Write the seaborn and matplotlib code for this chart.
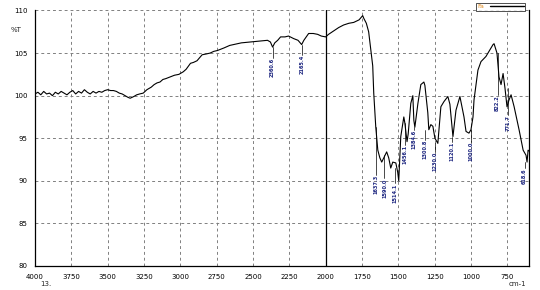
import matplotlib
matplotlib.use("Agg")
import matplotlib.pyplot as plt
import seaborn as sns
import pandas as pd
from matplotlib.ticker import MultipleLocator

wavenumber = [4000, 3980, 3960, 3940, 3920, 3900, 3880, 3860, 3840, 3820, 3800, 3780, 3760,
              3740, 3720, 3700, 3680, 3660, 3640, 3620, 3600, 3580, 3560, 3540, 3520, 3500,
              3480, 3460, 3440, 3420, 3400, 3380, 3360, 3345, 3320, 3300, 3280, 3255, 3230,
              3200, 3180, 3160, 3140, 3120, 3100, 3070, 3040, 3010, 2980, 2960, 2930, 2910,
              2885, 2860, 2850, 2820, 2795, 2770, 2745, 2700, 2660, 2634, 2580, 2517, 2460,
              2400, 2380, 2365, 2350, 2330, 2310, 2280, 2255, 2220, 2190, 2175, 2165, 2150,
              2117, 2085, 2055, 2030, 2000, 1980, 1945, 1910, 1876, 1840, 1807, 1770, 1745,
              1738, 1720, 1704, 1690, 1676, 1669, 1655, 1641, 1627, 1614, 1600, 1580, 1566,
              1552, 1538, 1517, 1504, 1497, 1490, 1483, 1462, 1455, 1440, 1432, 1414, 1400,
              1393, 1386, 1365, 1345, 1324, 1317, 1297, 1290, 1276, 1262, 1248, 1228, 1221,
              1207, 1186, 1159, 1145, 1124, 1103, 1076, 1048, 1034, 1014, 1000, 986, 979,
              952, 931, 897, 876, 848, 841, 821, 807, 793, 779, 766, 752, 738, 724, 703,
              669, 641, 621, 614, 607, 600]
transmittance = [100.2, 100.4, 100.1, 100.5, 100.2, 100.3, 100.0, 100.4, 100.2, 100.5, 100.3,
                 100.1, 100.4, 100.6, 100.2, 100.5, 100.3, 100.7, 100.4, 100.2, 100.5, 100.3,
                 100.5, 100.4, 100.6, 100.7, 100.6, 100.6, 100.5, 100.3, 100.2, 100.0, 99.8,
                 99.7, 99.9, 100.1, 100.2, 100.3, 100.7, 101.0, 101.3, 101.5, 101.6, 101.9,
                 102.0, 102.2, 102.4, 102.5, 102.8, 103.1, 103.8, 103.9, 104.1, 104.6, 104.8,
                 104.9, 105.0, 105.2, 105.3, 105.6, 105.9, 106.0, 106.2, 106.3, 106.4, 106.5,
                 106.3, 105.7, 106.2, 106.5, 106.9, 106.9, 107.0, 106.7, 106.5, 106.2, 106.0,
                 106.5, 107.3, 107.3, 107.2, 107.0, 106.9, 107.2, 107.6, 108.0, 108.3, 108.5,
                 108.6, 108.9, 109.4, 109.1, 108.5, 107.5, 105.5, 103.5, 100.3, 96.3, 93.6,
                 92.7, 92.2, 92.7, 93.4, 92.7, 91.5, 92.2, 92.1, 91.0, 90.0, 92.5, 95.2, 97.5,
                 96.8, 94.6, 95.5, 99.1, 100.0, 97.1, 96.3, 99.1, 101.3, 101.6, 101.2, 98.0,
                 96.0, 96.6, 96.4, 95.0, 94.4, 95.8, 98.7, 99.3, 99.9, 99.0, 95.2, 98.3, 99.9,
                 97.5, 95.8, 95.6, 96.0, 97.5, 99.5, 103.0, 104.0, 104.6, 105.2, 106.0, 106.1,
                 105.0, 102.2, 101.3, 102.6, 100.9, 98.7, 99.5, 100.1, 98.7, 96.0, 93.6, 93.0,
                 92.2, 93.6, 93.5]

peak_wn = [2365, 2165, 1655, 1595, 1520, 1457, 1395, 1319, 1250, 1133, 1002, 816, 747, 630]
peak_text = ["2360.6", "2165.4", "1637.3", "1590.0", "1514.1", "1456.1", "1384.6",
             "1300.8", "1230.0", "1120.1", "1000.0", "822.2", "771.7", "618.6"]
peak_curve = [105.7, 106.0, 96.3, 93.0, 91.5, 96.8, 96.3, 96.0, 94.4, 95.2, 96.0, 105.0, 100.9, 92.2]
label_top = [104.4, 104.8, 90.7, 90.3, 89.7, 94.2, 96.0, 94.8, 93.4, 94.6, 94.6, 100.1, 97.7, 91.5]

x_ticks = [4000, 3750, 3500, 3250, 3000, 2750, 2500, 2250, 2000, 1750, 1500, 1250, 1000, 750]
y_ticks = [80, 85, 90, 95, 100, 105, 110]

df = pd.DataFrame({"wn": wavenumber, "T": transmittance})

sns.set_style("white")
plt.rcParams["font.family"] = ["DejaVu Sans"]

fig = plt.figure(figsize=(5.4, 2.9), dpi=100)
ax = fig.add_axes([0.0648, 0.0828, 0.915, 0.881])

sns.lineplot(data=df, x="wn", y="T", sort=False, estimator=None, color="black",
             linewidth=0.8, ax=ax, label="Fa")

ax.set_xlim(4000, 600)
ax.set_ylim(80, 110)
ax.set_xticks(x_ticks)
ax.set_yticks(y_ticks)
ax.xaxis.set_minor_locator(MultipleLocator(50))
ax.yaxis.set_minor_locator(MultipleLocator(1))
ax.tick_params(axis="both", which="major", direction="out", length=4, width=0.8,
               labelsize=5, pad=1.5, colors="black")
ax.tick_params(axis="both", which="minor", direction="out", length=2, width=0.6)
ax.set_xlabel("")
ax.set_ylabel("")

ax.grid(True, which="major", linestyle=(0, (3, 3)), color="#808080", linewidth=0.7)
for s in ["left", "bottom", "right"]:
    ax.spines[s].set_visible(True)
    ax.spines[s].set_color("black")
    ax.spines[s].set_linewidth(0.9)
ax.spines["top"].set_visible(False)
ax.axvline(2000, color="black", linewidth=0.9, zorder=3)

for wn, txt, yc, yt in zip(peak_wn, peak_text, peak_curve, label_top):
    ax.plot([wn, wn], [yc, yt], color="black", linewidth=0.5)
    ax.text(wn, yt, txt, rotation=90, ha="center", va="top", fontsize=3.6,
            color="#1a237e", fontweight="bold")

leg = ax.legend(loc="upper right", bbox_to_anchor=(0.992, 1.03), fontsize=4.5,
                markerfirst=False, handlelength=5.5, frameon=True, fancybox=False,
                borderpad=0.2, handletextpad=0.8, borderaxespad=0)
leg.get_frame().set_edgecolor("black")
leg.get_frame().set_linewidth(0.6)
for t in leg.get_texts():
    t.set_color("#e08a1e")
for h in leg.get_lines():
    h.set_linewidth(1.0)

fig.text(0.019, 0.895, "%T", fontsize=5, ha="left", va="center")
fig.text(0.075, 0.022, "13.", fontsize=5, ha="left", va="center")
fig.text(0.975, 0.022, "cm-1", fontsize=5, ha="right", va="center")

fig.savefig("out.png", dpi=100)
